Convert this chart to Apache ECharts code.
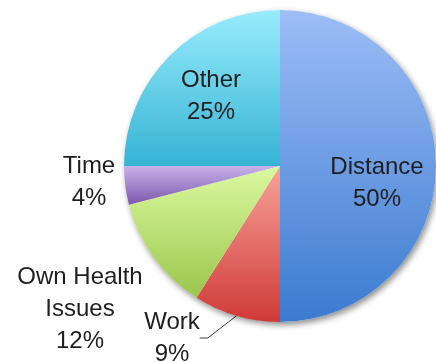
<!DOCTYPE html>
<html>
<head>
<meta charset="utf-8">
<script src="https://cdn.jsdelivr.net/npm/echarts@6/dist/echarts.min.js"></script>
<style>
  html, body { margin: 0; padding: 0; background: #ffffff; }
  #chart { width: 436px; height: 362px; }
</style>
</head>
<body>
<div id="chart"></div>
<script>
// Reasons and their shares (percent)
const categories = ['Distance', 'Work', 'Own Health Issues', 'Time', 'Other'];
const shares = [50, 9, 12, 4, 25];

// Vertical gradient stops for each slice (light top -> deeper bottom)
const topColors = ['#9dbdf6', '#f9a29c', '#dbf9a0', '#c7b2ea', '#98ecfc'];
const bottomColors = ['#3b7bd0', '#cf3a36', '#9bc64c', '#7c57aa', '#36b3d4'];

// Label block centres, in pixels
const labelPos = [[377, 183], [172, 338], [80, 309], [89, 182], [211, 96]];

const CENTER = [280, 166];
const RADIUS = 156;
const FONT = '"Liberation Sans", Arial, sans-serif';

function wrapName(name) {
  const i = name.lastIndexOf(' ');
  return name.length > 12 && i > 0 ? name.slice(0, i) + '\n' + name.slice(i + 1) : name;
}

const sliceData = categories.map((name, i) => ({
  name: name,
  value: shares[i],
  itemStyle: {
    color: new echarts.graphic.LinearGradient(0, 0, 0, 1, [
      { offset: 0, color: topColors[i] },
      { offset: 1, color: bottomColors[i] }
    ])
  },
  label: { position: (name === 'Distance' || name === 'Other') ? 'inside' : 'outside' },
  labelLine: { show: name === 'Work' }
}));

const total = shares.reduce((a, b) => a + b, 0);

const chart = echarts.init(document.getElementById('chart'), null, { renderer: 'canvas' });
chart.setOption({
  animation: false,
  backgroundColor: '#ffffff',
  series: [
    {
      // soft drop shadow beneath the whole pie
      type: 'pie',
      silent: true,
      center: CENTER,
      radius: RADIUS,
      label: { show: false },
      labelLine: { show: false },
      itemStyle: {
        color: '#ffffff',
        shadowBlur: 6,
        shadowColor: 'rgba(0,0,0,0.45)',
        shadowOffsetX: 2,
        shadowOffsetY: 3
      },
      data: [{ value: total, name: '' }]
    },
    {
      type: 'pie',
      center: CENTER,
      radius: RADIUS,
      startAngle: 90,
      clockwise: true,
      itemStyle: { borderWidth: 0 },
      label: {
        show: true,
        formatter: p => wrapName(p.name) + '\n' + p.value + '%',
        fontFamily: FONT,
        fontSize: 24,
        lineHeight: 32,
        color: '#1e1e1e',
        align: 'center',
        overflow: 'none'
      },
      labelLine: {
        lineStyle: { color: '#404040', width: 1 },
        length: 6,
        length2: 8,
        smooth: false
      },
      labelLayout: function (params) {
        const p = labelPos[params.dataIndex];
        return { x: p[0], y: p[1], align: 'center', verticalAlign: 'middle' };
      },
      data: sliceData
    }
  ]
});
</script>
</body>
</html>
